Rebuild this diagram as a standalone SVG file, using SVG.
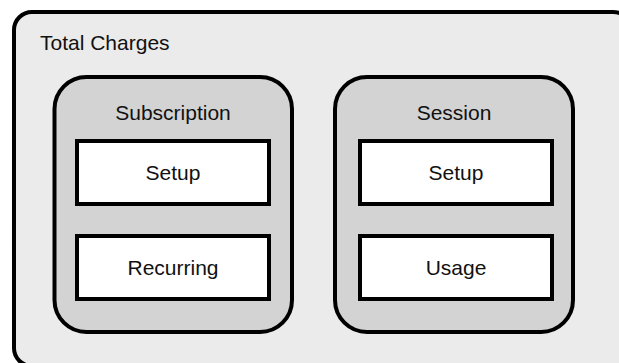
<svg xmlns="http://www.w3.org/2000/svg" width="619" height="363" viewBox="0 0 619 363">
  <style>
    .outer { fill: #ebebeb; stroke: #000; stroke-width: 4; }
    .group { fill: #d3d3d3; stroke: #000; stroke-width: 4; }
    .item { fill: #ffffff; stroke: #000; stroke-width: 4; }
    .label { font-family: "Liberation Sans", Arial, sans-serif; font-size: 21px; fill: #111; }
    .mid { text-anchor: middle; }
  </style>
  <rect width="619" height="363" fill="#ffffff"/>

  <!-- Outer container: runs past the right and bottom edges -->
  <g id="total-charges">
    <rect class="outer" x="14" y="12" width="617" height="354" rx="18" ry="18"/>
    <text class="label" x="40" y="50">Total Charges</text>
  </g>

  <!-- Subscription group -->
  <g id="subscription">
    <rect class="group" x="54.5" y="77" width="237.5" height="255" rx="32" ry="32"/>
    <text class="label mid" x="173" y="120">Subscription</text>
  </g>
  <g id="subscription-setup">
    <rect class="item" x="77" y="141" width="192" height="63"/>
    <text class="label mid" x="173" y="180">Setup</text>
  </g>
  <g id="subscription-recurring">
    <rect class="item" x="77" y="236" width="192" height="63"/>
    <text class="label mid" x="173" y="275">Recurring</text>
  </g>

  <!-- Session group -->
  <g id="session">
    <rect class="group" x="335" y="77" width="238" height="255" rx="32" ry="32"/>
    <text class="label mid" x="454" y="120">Session</text>
  </g>
  <g id="session-setup">
    <rect class="item" x="360" y="141" width="192" height="63"/>
    <text class="label mid" x="456" y="180">Setup</text>
  </g>
  <g id="session-usage">
    <rect class="item" x="360" y="236" width="192" height="63"/>
    <text class="label mid" x="456" y="275">Usage</text>
  </g>

  <g id="connectors"/>
</svg>
